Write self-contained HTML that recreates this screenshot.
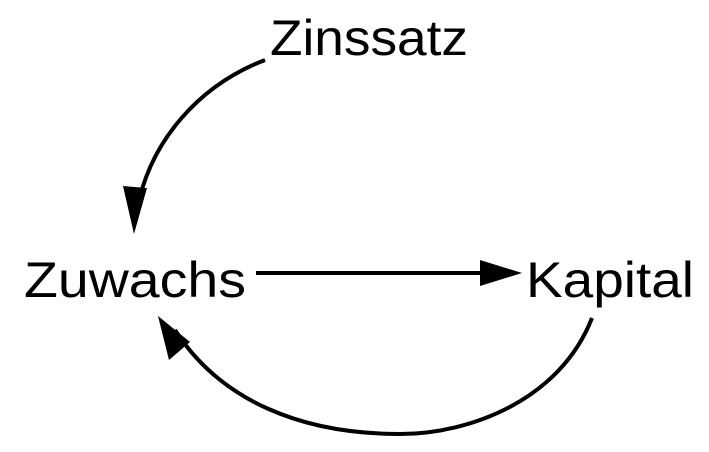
<!DOCTYPE html>
<html><head><style>
html,body{margin:0;padding:0;background:#fff;}
svg{display:block;}
text{font-family:"Liberation Sans",sans-serif;font-size:50px;fill:#000;}
</style></head><body>
<svg width="709" height="452" viewBox="0 0 709 452">
<text x="270" y="55" textLength="198" lengthAdjust="spacingAndGlyphs">Zinssatz</text>
<text x="24" y="297" textLength="222" lengthAdjust="spacingAndGlyphs">Zuwachs</text>
<text x="526" y="297" textLength="168" lengthAdjust="spacingAndGlyphs">Kapital</text>
<g fill="none" stroke="#000" stroke-width="4">
<path d="M265,60 C200,85 150,140 137,210"/>
<path d="M256,273 L490,273"/>
<path d="M592,318 C560,400 470,434 400,434 C300,434 220,400 175,330"/>
</g>
<g fill="#000">
<polygon points="123,186 147,188 134,234"/>
<polygon points="480,260 480,286 522,273"/>
<polygon points="158,316 169,360 190,342"/>
</g>
</svg>
</body></html>
